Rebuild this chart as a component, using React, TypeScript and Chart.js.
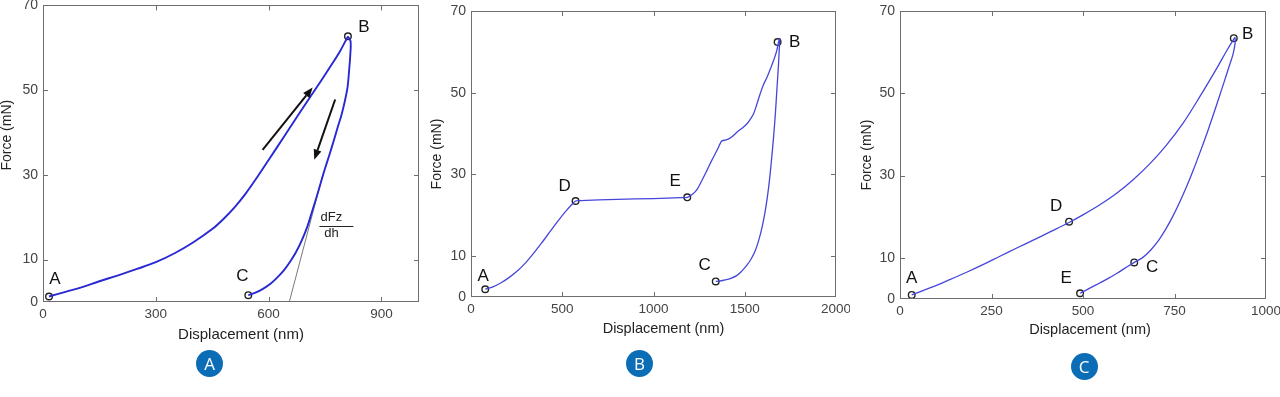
import React, { useEffect, useRef } from "react";
import { Chart, registerables } from "chart.js";
Chart.register(...registerables);

// ---------- Panel A data ----------
const panelAXTicks = [0, 300, 600, 900];
const panelAYTicks = [0, 10, 30, 50, 70];
const panelALoading = [
  [16, 1.3], [60, 2.4], [100, 3.4], [150, 4.9], [200, 6.3], [250, 7.8], [300, 9.4],
  [350, 11.5], [400, 14.1], [450, 17.2], [480, 19.6], [510, 22.4], [540, 25.7],
  [570, 29.5], [600, 33.5], [640, 38.9], [680, 44.3], [720, 49.6], [760, 55.0],
  [790, 59.2], [811, 62.7],
];
const panelAUnloading = [
  [811, 62.7], [818, 61.5], [817, 58], [814, 54.5], [810, 50.7], [803, 47.5], [794, 44.2],
  [784, 41.3], [774, 38.3], [762, 34.8], [750, 31.5], [738, 27.9], [727, 24.6],
  [715, 21.2], [703, 17.8], [688, 14.5], [673, 11.8], [658, 9.6], [640, 7.4],
  [622, 5.7], [605, 4.3], [585, 3.1], [565, 2.2], [546, 1.6],
];
const panelATangent = [[655, 0], [745, 30.3]];
const panelAMarkers = [[16, 1.3], [811, 62.7], [546, 1.6]];
const panelALabels = ["A", "B", "C"];
const panelAArrows = [
  [[584, 35.9], [717, 50.6]],
  [[777, 47.8], [721.5, 33.6]],
];
const panelAFractionAnchor = [767, 18];
const panelAFractionText = ["dFz", "dh"];

// ---------- Panel B data ----------
const panelBXTicks = [0, 500, 1000, 1500, 2000];
const panelBYTicks = [0, 10, 30, 50, 70];
const panelBLoading = [
  [78, 1.9], [120, 2.5], [165, 3.5], [210, 4.8], [255, 6.4], [300, 8.4], [345, 10.8],
  [390, 13.4], [435, 16.1], [480, 18.8], [520, 21.0], [550, 22.5], [573, 23.5],
  [600, 23.6], [800, 23.9], [1000, 24.1], [1150, 24.3], [1185, 24.4], [1215, 25.2],
  [1238, 26.3], [1265, 28.5], [1293, 31], [1320, 33.5], [1348, 35.9], [1366, 37.6],
  [1375, 38.2], [1403, 38.5], [1430, 39.2], [1458, 40.4], [1485, 41.3], [1512, 42.4],
  [1530, 43.5], [1549, 44.9], [1567, 47.3], [1585, 49.8], [1603, 52], [1622, 53.8],
  [1640, 55.8], [1658, 57.9], [1675, 60.2], [1685, 62.4], [1692, 63.4],
];
const panelBUnloading = [
  [1692, 63.4], [1685, 57], [1677, 51.4], [1668, 45], [1658, 39.2], [1645, 32.8],
  [1631, 26.9], [1614, 21.5], [1595, 17.1], [1576, 13.8], [1558, 11.4], [1535, 9.3],
  [1512, 7.8], [1485, 6.4], [1458, 5.3], [1420, 4.5], [1384, 4.1], [1341, 3.8],
];
const panelBMarkers = [[78, 1.9], [1680, 62.4], [1341, 3.8], [573, 23.5], [1185, 24.4]];
const panelBLabels = ["A", "B", "C", "D", "E"];

// ---------- Panel C data ----------
const panelCXTicks = [0, 250, 500, 750, 1000];
const panelCYTicks = [0, 10, 30, 50, 70];
const panelCLoading = [
  [32, 1.0], [91, 3.0], [136, 4.7], [182, 6.5], [228, 8.4], [273, 10.4], [319, 12.4],
  [364, 14.3], [410, 16.3], [462, 18.6], [501, 20.5], [546, 22.9], [592, 25.7],
  [637, 29.0], [683, 32.9], [728, 37.4], [774, 42.8], [820, 49.3], [865, 56.0],
  [895, 60.7], [915, 63.6],
];
const panelCUnloading = [
  [915, 63.6], [916, 62.5], [910, 59.5], [898, 56.2], [885, 52.6], [871, 48.8], [856, 44.8],
  [840, 40.6], [822, 36.2], [803, 31.7], [784, 27.5], [765, 23.7], [746, 20.2], [727, 17.1],
  [706, 14.2], [684, 11.8], [662, 10.0], [640, 8.9], [615, 7.5], [592, 6.2], [569, 5.0],
  [546, 3.9], [520, 2.7], [492, 1.4],
];
const panelCMarkers = [[32, 1.0], [912, 63.4], [640, 8.9], [462, 18.8], [492, 1.4]];
const panelCLabels = ["A", "B", "C", "D", "E"];

const xTitleText = "Displacement (nm)";
const yTitleText = "Force (mN)";

// ---------- styles / layout ----------
const FONT = "'Liberation Sans', Arial, Helvetica, sans-serif";

type Panel = {
  left: number; width: number; height: number;
  padTop: number; padRight: number; yAxisWidth: number; xAxisHeight: number;
  xMax: number; xTicks: number[]; yTicks: number[];
  curves: number[][][]; curveColor: string; curveWidth: number;
  markers: number[][]; labels: string[]; labelOffsets: number[][];
  xTitle: { dx: number; dy: number; size: number };
  yTitle: { dx: number; dy: number; size: number };
  tangent?: number[][]; arrows?: number[][][];
  fraction?: { anchor: number[]; text: string[] };
  badge: { x: number; y: number; text: string };
};

const panels: Panel[] = [
  {
    left: 0, width: 430, height: 397, padTop: 5, padRight: 11, yAxisWidth: 43, xAxisHeight: 95,
    xMax: 1000, xTicks: panelAXTicks, yTicks: panelAYTicks,
    curves: [panelALoading, panelAUnloading], curveColor: "#2828d4", curveWidth: 1.9,
    markers: panelAMarkers, labels: panelALabels,
    labelOffsets: [[6, -17], [16, -9], [-6, -19]],
    xTitle: { dx: 10, dy: 33, size: 15 }, yTitle: { dx: -36, dy: -18.5, size: 14 },
    tangent: panelATangent, arrows: panelAArrows,
    fraction: { anchor: panelAFractionAnchor, text: panelAFractionText },
    badge: { x: 209.5, y: 363.5, text: "A" },
  },
  {
    left: 430, width: 420, height: 397, padTop: 11, padRight: 14, yAxisWidth: 41, xAxisHeight: 100,
    xMax: 2000, xTicks: panelBXTicks, yTicks: panelBYTicks,
    curves: [panelBLoading, panelBUnloading], curveColor: "#4646dc", curveWidth: 1.3,
    markers: panelBMarkers, labels: panelBLabels,
    labelOffsets: [[-2, -13], [17, 0], [-11, -16], [-11, -15], [-12, -16]],
    xTitle: { dx: 10, dy: 32.3, size: 14.5 }, yTitle: { dx: -34.3, dy: 0, size: 14 },
    badge: { x: 639.5, y: 363.5, text: "B" },
  },
  {
    left: 850, width: 430, height: 397, padTop: 11, padRight: 14, yAxisWidth: 50, xAxisHeight: 98,
    xMax: 1000, xTicks: panelCXTicks, yTicks: panelCYTicks,
    curves: [panelCLoading, panelCUnloading], curveColor: "#4646dc", curveWidth: 1.3,
    markers: panelCMarkers, labels: panelCLabels,
    labelOffsets: [[0, -17], [14, -4], [18, 5], [-13, -15], [-14, -15]],
    xTitle: { dx: 7, dy: 31, size: 14.5 }, yTitle: { dx: -33.3, dy: 0, size: 14 },
    badge: { x: 1084, y: 366.5, text: "C" },
  },
];

function toXY(arr: number[][]) {
  return arr.map(([x, y]) => ({ x, y }));
}

function makeChart(canvas: HTMLCanvasElement, p: Panel) {
  const datasets: any[] = [];
  p.curves.forEach((c) => {
    datasets.push({
      data: toXY(c), showLine: true, borderColor: p.curveColor, borderWidth: p.curveWidth,
      pointRadius: 0, tension: 0.35, fill: false,
    });
  });
  if (p.tangent) {
    datasets.push({
      data: toXY(p.tangent), showLine: true, borderColor: "#555", borderWidth: 0.8,
      pointRadius: 0, tension: 0, fill: false,
    });
  }
  datasets.push({
    data: toXY(p.markers), showLine: false, pointRadius: 3.3, pointBorderWidth: 1.4,
    pointBorderColor: "#222", pointBackgroundColor: "rgba(0,0,0,0)", pointStyle: "circle",
  });

  const decor = {
    id: "decor",
    afterDraw(chart: any) {
      const { ctx, chartArea: a, scales } = chart;
      const xs = scales.x, ys = scales.y;
      ctx.save();
      // frame
      ctx.strokeStyle = "#6e6e6e";
      ctx.lineWidth = 1;
      ctx.strokeRect(Math.round(a.left) + 0.5, Math.round(a.top) + 0.5,
        Math.round(a.right - a.left) - 1, Math.round(a.bottom - a.top) - 1);
      // inward ticks
      const tl = 5;
      ctx.beginPath();
      p.xTicks.forEach((v) => {
        const px = Math.round(xs.getPixelForValue(v)) + 0.5;
        if (px <= a.left + 1 || px >= a.right - 1) return;
        ctx.moveTo(px, a.bottom); ctx.lineTo(px, a.bottom - tl);
        ctx.moveTo(px, a.top); ctx.lineTo(px, a.top + tl);
      });
      p.yTicks.forEach((v) => {
        const py = Math.round(ys.getPixelForValue(v)) + 0.5;
        if (py <= a.top + 1 || py >= a.bottom - 1) return;
        ctx.moveTo(a.left, py); ctx.lineTo(a.left + tl, py);
        ctx.moveTo(a.right, py); ctx.lineTo(a.right - tl, py);
      });
      ctx.stroke();

      // point labels
      ctx.fillStyle = "#111";
      ctx.font = `17px ${FONT}`;
      ctx.textAlign = "center";
      ctx.textBaseline = "middle";
      p.markers.forEach((m, i) => {
        const px = xs.getPixelForValue(m[0]) + p.labelOffsets[i][0];
        const py = ys.getPixelForValue(m[1]) + p.labelOffsets[i][1];
        ctx.fillText(p.labels[i], px, py);
      });

      // arrows
      if (p.arrows) {
        ctx.strokeStyle = "#111";
        ctx.fillStyle = "#111";
        ctx.lineWidth = 2;
        p.arrows.forEach(([s, e]) => {
          const x1 = xs.getPixelForValue(s[0]), y1 = ys.getPixelForValue(s[1]);
          const x2 = xs.getPixelForValue(e[0]), y2 = ys.getPixelForValue(e[1]);
          const ang = Math.atan2(y2 - y1, x2 - x1);
          const hl = 10, hw = 4;
          const bx = x2 - hl * Math.cos(ang), by = y2 - hl * Math.sin(ang);
          ctx.beginPath();
          ctx.moveTo(x1, y1); ctx.lineTo(bx, by); ctx.stroke();
          ctx.beginPath();
          ctx.moveTo(x2, y2);
          ctx.lineTo(bx + hw * Math.sin(ang), by - hw * Math.cos(ang));
          ctx.lineTo(bx - hw * Math.sin(ang), by + hw * Math.cos(ang));
          ctx.closePath();
          ctx.fill();
        });
      }

      // fraction dFz / dh
      if (p.fraction) {
        const fx = xs.getPixelForValue(p.fraction.anchor[0]);
        const fy = ys.getPixelForValue(p.fraction.anchor[1]);
        ctx.fillStyle = "#222";
        ctx.font = `13px ${FONT}`;
        ctx.textAlign = "center";
        ctx.textBaseline = "middle";
        ctx.fillText(p.fraction.text[0], fx, fy - 8);
        ctx.fillText(p.fraction.text[1], fx, fy + 8);
        ctx.strokeStyle = "#222";
        ctx.lineWidth = 1;
        ctx.beginPath();
        ctx.moveTo(fx - 12, Math.round(fy) + 0.5);
        ctx.lineTo(fx + 22, Math.round(fy) + 0.5);
        ctx.stroke();
      }

      // axis titles
      ctx.fillStyle = "#222";
      ctx.textAlign = "center";
      ctx.textBaseline = "middle";
      ctx.font = `${p.xTitle.size}px ${FONT}`;
      ctx.fillText(xTitleText, (a.left + a.right) / 2 + p.xTitle.dx, a.bottom + p.xTitle.dy);
      ctx.save();
      ctx.translate(a.left + p.yTitle.dx, (a.top + a.bottom) / 2 + p.yTitle.dy);
      ctx.rotate(-Math.PI / 2);
      ctx.font = `${p.yTitle.size}px ${FONT}`;
      ctx.fillText(yTitleText, 0, 0);
      ctx.restore();
      ctx.restore();
    },
  };

  const xTickFont = { family: FONT, size: 13.5 };
  const yTickFont = { family: FONT, size: 14 };
  const plain = (v: any) => String(v);
  return new Chart(canvas, {
    type: "scatter",
    data: { datasets },
    options: {
      responsive: false,
      animation: false,
      devicePixelRatio: 1,
      layout: { padding: { top: p.padTop, right: p.padRight, left: 0, bottom: 0 } },
      plugins: { legend: { display: false }, tooltip: { enabled: false } },
      scales: {
        x: {
          type: "linear", min: 0, max: p.xMax,
          grid: { display: false, drawTicks: false },
          border: { display: false },
          ticks: { padding: 4, font: xTickFont, color: "#444", autoSkip: false, maxRotation: 0, callback: plain },
          afterBuildTicks: (s: any) => { s.ticks = p.xTicks.map((v) => ({ value: v })); },
          afterFit: (s: any) => {
            s.height = p.xAxisHeight;
            s.paddingLeft = 0; s.paddingRight = 0; s.paddingTop = 0; s.paddingBottom = 0;
          },
        },
        y: {
          type: "linear", min: 0, max: 70,
          grid: { display: false, drawTicks: false },
          border: { display: false },
          ticks: { padding: 5, font: yTickFont, color: "#444", autoSkip: false, callback: plain },
          afterBuildTicks: (s: any) => { s.ticks = p.yTicks.map((v) => ({ value: v })); },
          afterFit: (s: any) => {
            s.width = p.yAxisWidth;
            s.paddingLeft = 0; s.paddingRight = 0; s.paddingTop = 0; s.paddingBottom = 0;
          },
        },
      },
    } as any,
    plugins: [decor],
  });
}

function PanelChart({ p }: { p: Panel }) {
  const ref = useRef<HTMLCanvasElement | null>(null);
  useEffect(() => {
    if (!ref.current) return;
    const chart = makeChart(ref.current, p);
    return () => chart.destroy();
  }, [p]);
  return (
    <canvas
      ref={ref}
      width={p.width}
      height={p.height}
      style={{ position: "absolute", left: p.left, top: 0, width: p.width, height: p.height }}
    />
  );
}

function Badge({ x, y, text }: { x: number; y: number; text: string }) {
  const d = 27;
  return (
    <div
      style={{
        position: "absolute", left: x - d / 2, top: y - d / 2, width: d, height: d,
        borderRadius: "50%", background: "#0c6db7", color: "#fff",
        fontFamily: "'Open Sans', 'Noto Sans', sans-serif", fontSize: 17,
        lineHeight: `${d}px`, textAlign: "center",
      }}
    >
      {text}
    </div>
  );
}

export default function App() {
  return (
    <div style={{ position: "absolute", left: 0, top: 0, width: 1280, height: 397, background: "#fff", overflow: "hidden" }}>
      {panels.map((p, i) => (
        <PanelChart key={i} p={p} />
      ))}
      {panels.map((p, i) => (
        <Badge key={"b" + i} x={p.badge.x} y={p.badge.y} text={p.badge.text} />
      ))}
    </div>
  );
}
